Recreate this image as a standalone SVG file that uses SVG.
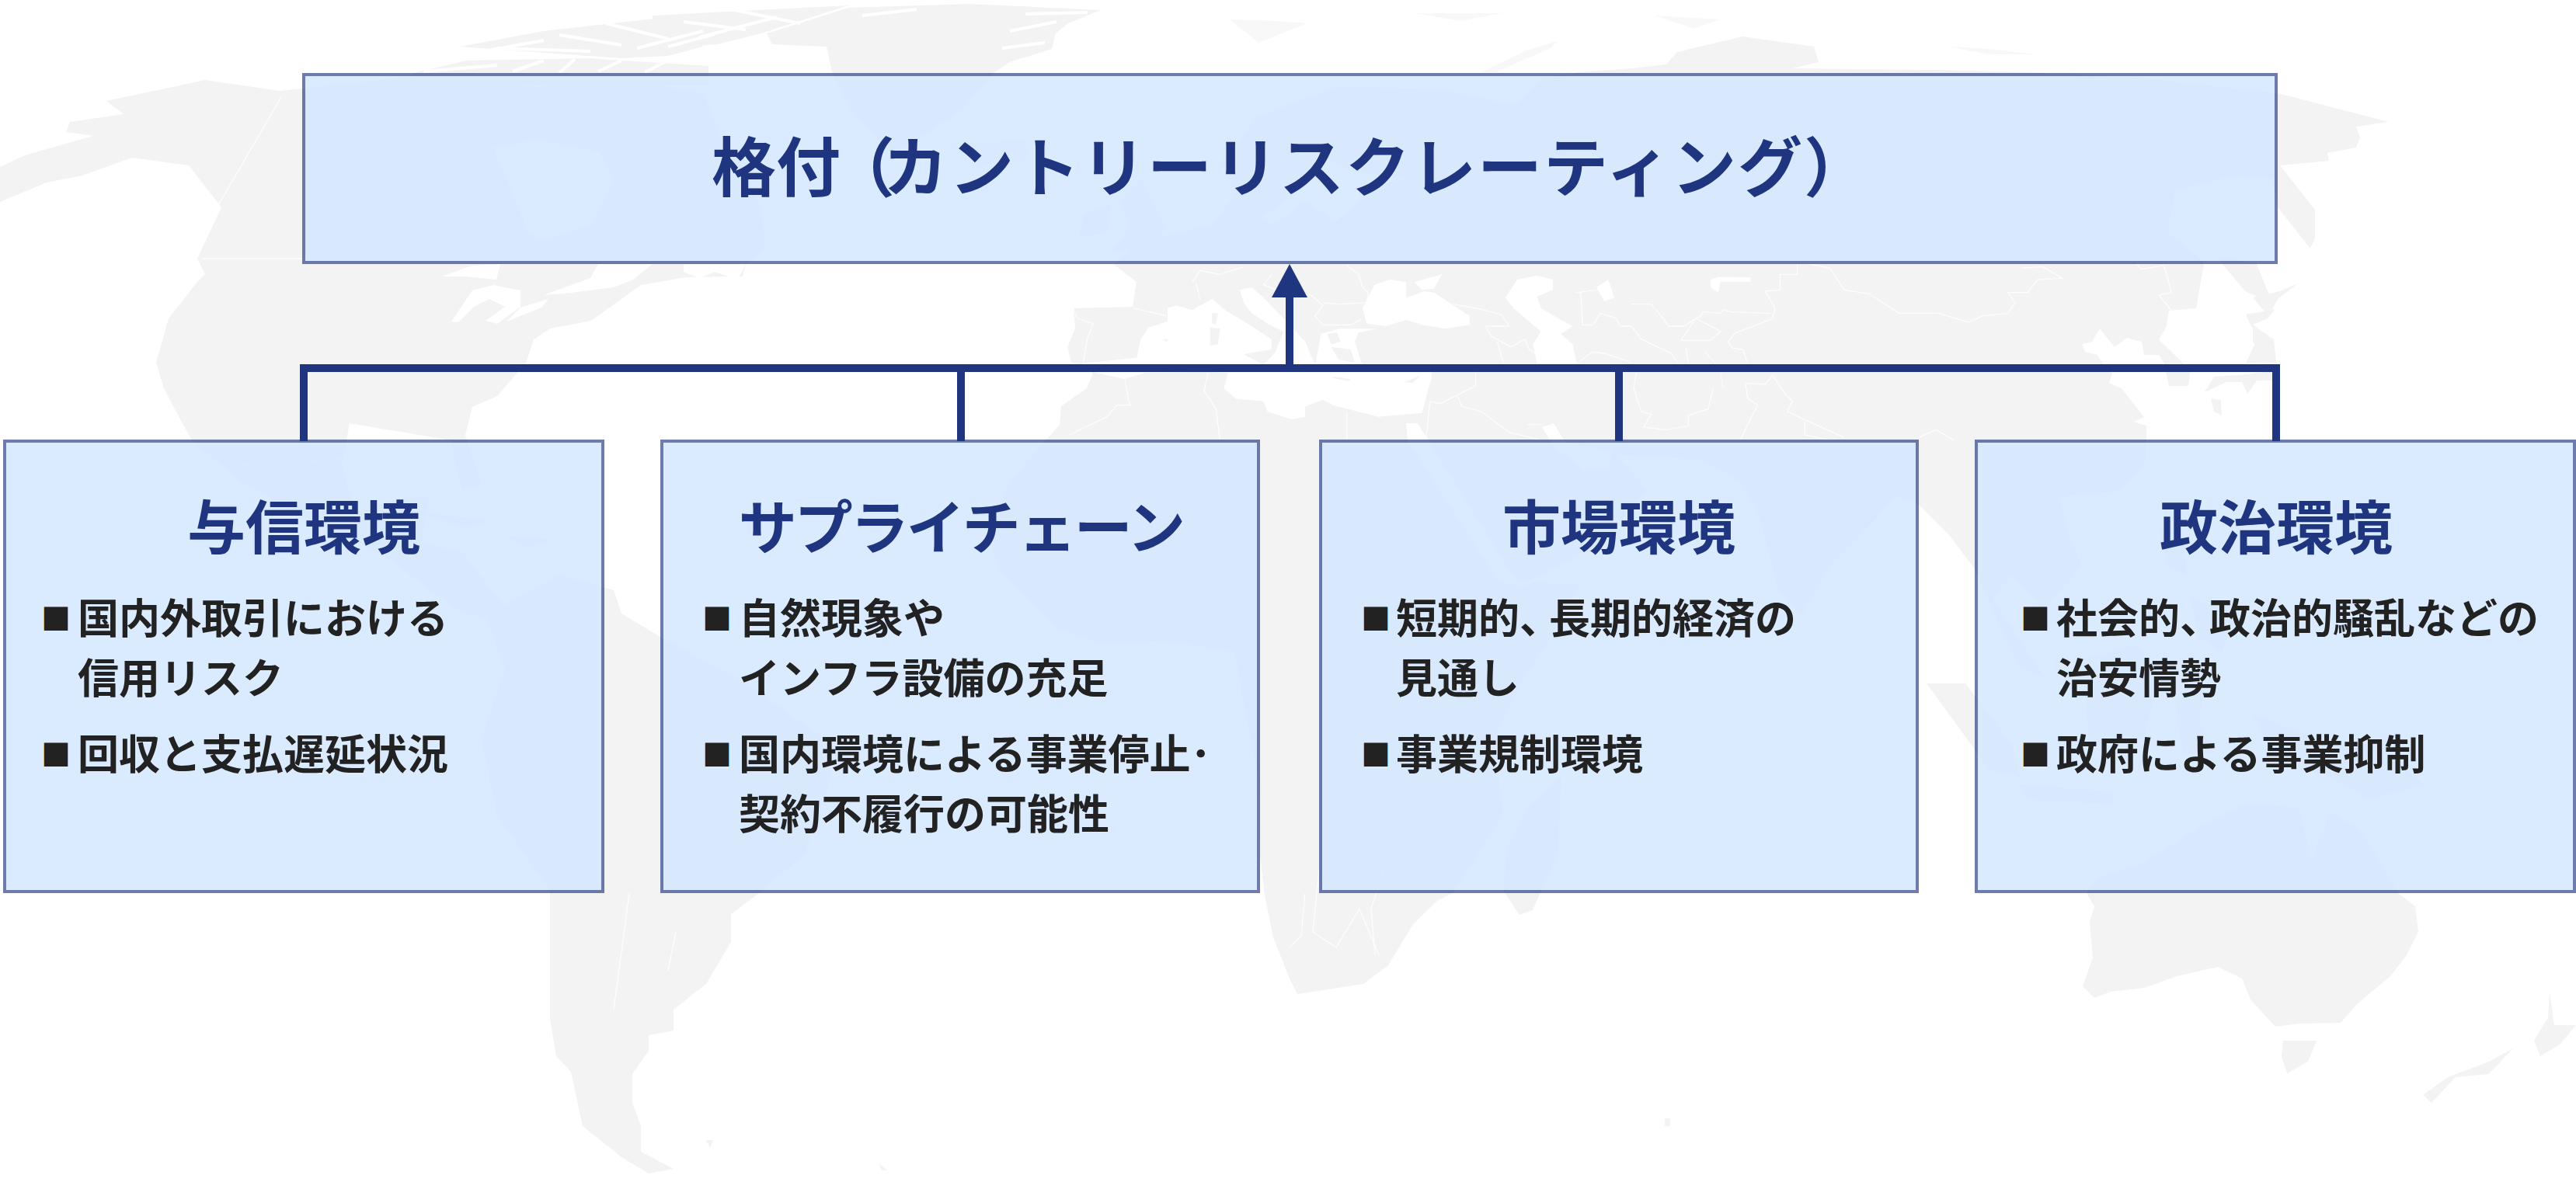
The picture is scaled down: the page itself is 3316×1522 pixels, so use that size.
<svg xmlns="http://www.w3.org/2000/svg" width="3316" height="1522" viewBox="0 0 3316 1522">
<style>
text{font-family:"Noto Sans CJK JP","Noto Sans",sans-serif;font-weight:700}
.land{fill:#f3f3f3}
.faint{fill:#f3f3f3;opacity:.55}
.sea{fill:#fff}
.fleck{fill:none;stroke:#fff;stroke-width:4}
.b{fill:none;stroke:#fff;stroke-width:1.3;vector-effect:non-scaling-stroke;opacity:.85}
.fill{fill:#d0e5ff;fill-opacity:.78}
.edge{fill:none;stroke:#1f3580;stroke-opacity:.65;stroke-width:4}
.title{font-size:83px;fill:#1f3580}
.head{font-size:75px;fill:#1f3580;text-anchor:middle}
.item{font-size:53px;fill:#222}
.bullet{font-size:38px;fill:#222}
.conn{fill:none;stroke:#1f3580;stroke-width:10}
.arrow{fill:#1f3580}
</style>
<g id="map">
<path class="land" d="M1433,340L1470,312L1560,290L1590,250L1570,210L1620,150L1720,112L1850,115L1950,135L1985,100L2033,93L2100,88L2145,83L2159,67L2243,47L2335,60L2341,80L2308,88L2493,90L2610,93L2750,100L2932,120L3075,157L3033,163L3038,177L3033,190L2996,197L2998,207L2935,213L2980,270L2980,307L2974,320L2932,267L2925,230L2880,225L2800,245L2790,300L2835,335L2837,340L2827,397L2792,400L2789,420L2779,437L2792,450L2811,468L2819,480L2817,497L2792,497L2786,468L2779,457L2760,457L2757,440L2738,435L2722,447L2703,423L2693,440L2680,443L2684,453L2700,457L2706,467L2719,480L2715,493L2731,500L2760,537L2747,543L2763,548L2763,567L2760,600L2730,632L2650,640L2660,680L2680,730L2630,785L2590,740L2565,770L2630,870L2600,860L2540,730L2510,690L2470,650L2443,638L2355,730L2320,790L2290,760L2263,660L2240,620L2190,592L2080,585L2120,630L2060,700L1975,745L1960,750L2035,752L1990,830L1958,880L1923,950L1935,1050L1870,1150L1850,1160L1819,1190L1787,1243L1755,1267L1670,1280L1660,1260L1639,1207L1628,1153L1622,1100L1620,1000L1600,900L1590,840L1500,825L1420,830L1360,810L1290,740L1270,690L1300,620L1346,567L1364,547L1366,523L1399,500L1407,480L1392,470L1379,467L1374,447L1384,423L1382,397L1458,395L1463,363Z"/>
<path class="sea" d="M1640,290L1680,260L1720,285L1770,240L1810,230L1740,220L1700,200L1680,240L1625,280Z"/>
<g transform="translate(1300,340) scale(.5102,.3333)">
<path class="sea" d="M180,385L320,362L330,290L350,245L398,222L398,170L420,160L460,178L510,135L545,180L610,240L660,290L660,330L590,348L640,390L1060,400L1065,430L1040,575L930,590L815,545L790,525L745,550L745,590L710,600L650,570L640,530L570,520L540,480L550,420L500,417L340,420L290,445L210,417Z"/>
<path class="sea" d="M580,100L610,90L640,130L700,225L745,300L770,390L640,390L670,340L690,262L650,230L610,190L590,150Z"/>
<path class="sea" d="M785,270L830,250L925,250L880,265L870,300L890,395L770,395Z"/>
<path class="sea" d="M890,170L920,80L960,60L1000,70L1000,130L1045,105L1070,110L1160,200L1160,235L1100,250L1040,235L1000,215L950,240L900,230Z"/>
<path class="sea" d="M1020,70L1090,40L1070,95L1040,100Z"/>
<path class="sea" d="M1250,130L1280,60L1330,45L1370,60L1370,100L1330,125L1340,170L1390,215L1420,240L1390,270L1420,310L1430,385L1330,385L1320,310L1340,260L1270,170Z"/>
<path class="sea" d="M1480,90L1510,60L1525,130L1500,145Z"/>
<path class="land" d="M505,245L530,250L525,310L505,315ZM510,190L525,190L520,232L510,230ZM815,435L860,445L855,452L815,440ZM995,455L1035,432L1015,460ZM385,290L400,290L395,300ZM800,270L825,265L835,300L810,310ZM810,320L860,330L870,380L830,370ZM890,300L900,330L880,350Z"/>
<path class="b" d="M160,175L170,210L210,230L195,290L185,380M310,170L395,200M460,70L480,25L530,40L590,10M470,75L480,140M660,40L640,80L690,110L760,120L790,160L770,200L790,235L860,235L885,215M850,5L880,40L890,90L905,110L900,150L830,155L790,150M1120,155L1190,175L1240,195L1260,240L1200,240L1215,280L1265,320L1300,290L1310,330L1350,370M1230,300L1245,380M1430,110L1480,100M1440,110L1445,235L1470,235L1490,190L1530,210L1540,240L1568,240M1430,385L1470,340L1500,345L1568,380M290,445L300,530L305,545L270,545L245,590L190,630L150,660M500,420L490,490L520,560L530,680M1175,417L1175,470L1085,540L1060,530M1130,510L1140,550L1190,570L1260,650L1340,680M850,570L850,680M1060,530L1050,680M1305,620L1340,620"/>
</g>
<path class="sea" d="M1810,545L1825,545L1950,745L1975,750L1960,755L1930,750L1812,567Z"/>
<path class="sea" d="M1985,550L2000,545L2015,570L2075,580L2070,605L2040,605L2000,575Z"/>
<g transform="translate(2100,340) scale(.6378,.3333)">
<path class="sea" d="M160,60L175,50L240,52L240,68L180,68L175,110L160,90Z"/>
<path class="b" d="M300,40L335,40L335,0M360,0L400,15L430,100L480,115L540,190L620,190L680,225L710,200L760,190L775,150L760,110L800,110L820,60L870,55L830,10L790,15M1020,0L1030,20L1075,5L1090,110L1065,120L1090,180M300,40L300,100L270,105L290,170L285,210L240,245L210,265L195,300L205,325L225,330L235,385M0,155L40,155L60,200L75,240L105,240L140,200L145,185L180,190L185,175L200,185L280,190M100,295L130,210L180,260L160,295L100,295M110,320L115,385M150,340L170,385M0,240L20,290L80,345L95,385M10,420L5,480L20,570L40,580L25,630L70,640L115,625L115,585L155,560L165,480M180,420L185,480M230,460L270,465L285,430L310,500L325,530L315,570L360,610L430,670M230,460L235,520L255,545L240,600L220,680M350,610L350,660L400,680M580,670L615,640L650,680"/>
</g>
<path class="land" d="M2855,330L2905,340L2925,390L2890,375L2865,345Z"/>
<path class="land" d="M2891,405L2929,398L2919,410L2900,418L2926,437L2929,467L2891,468L2907,433L2898,420ZM2891,482L2850,485L2838,505L2866,492L2886,492L2893,507L2905,490L2925,490L2925,478ZM2846,513L2859,515L2860,535L2850,530ZM2958,365L2932,385L2920,407L2900,383L2935,375ZM2900,420L2927,437L2930,467L2900,440Z"/>
<path class="land" d="M264,103L360,117L520,100L600,110L700,112L790,100L905,120L930,180L960,220L980,270L985,320L960,340L956,356L883,357L825,367L761,413L708,423L687,437L677,467L640,510L608,524L599,560L620,625L595,630L580,567L450,545L440,600L458,660L520,640L553,640L542,700L595,710L648,780L720,740L790,760L800,790L850,820L960,880L1060,950L1070,1000L1036,1100L973,1153L941,1177L941,1213L909,1267L867,1300L867,1327L835,1333L835,1353L814,1383L814,1420L825,1450L825,1483L867,1505L835,1511L800,1490L750,1450L735,1380L716,1360L708,1313L708,1147L640,1050L620,950L650,860L625,795L595,790L500,720L362,650L310,620L247,567L232,540L211,500L201,467L217,410L254,363L264,353L254,333L285,267L243,213L170,203L106,226L60,235L0,260L0,215L32,200L120,175L85,170L90,157L159,147L137,130Z"/>
<path class="sea" d="M635,190L690,180L770,195L790,230L760,290L700,310L680,300L660,250Z"/>
<path class="sea" d="M568,356L608,342L644,340L639,360L599,356ZM770,340L840,340L815,360L790,370L735,377L700,380L760,358ZM880,340L960,340L950,360L920,350L900,358L880,350Z"/>
<path class="sea" d="M581,414L608,374L635,367L670,374L670,395L640,417L625,413L650,395L630,385L610,395L590,415ZM670,396L706,385L697,396L652,414Z"/>
<path class="b" d="M362,125L240,335M260,333L560,333M300,600L450,590"/>
<path class="land" d="M1092,10L1248,5L1417,13L1375,30L1359,43L1354,63L1300,80L1280,93L1240,140L1150,200L1100,150L1071,93L1064,60L994,57L987,43Z"/>
<path class="land" d="M840,20L1092,7L980,43L924,57L840,63ZM592,60L700,40L878,20L905,60L860,72L800,75ZM529,95L600,78L760,75L912,85L912,110L529,110Z"/>
<path class="fleck" d="M600,70L700,52M640,62L760,66M720,45L800,58M780,30L860,50M820,62L905,40M545,92L640,84M660,92L700,78M720,94L740,76M770,92L800,78M830,93L860,78M880,28L960,38M900,48L1000,22M940,12L1030,30M860,60L920,44M1110,20L1180,12M1320,18L1400,16M1300,40L1360,28M1290,62L1345,55M1310,88L1345,72"/>
<path class="faint" d="M1583,25L1640,27L1682,30L1620,55ZM1822,17L1934,17L1880,27ZM1906,93L1965,65L2005,53L1996,62L1925,93ZM2130,20L2215,25L2180,37ZM2510,60L2560,63L2620,70L2560,70ZM1220,185L1320,180L1325,205L1250,215Z"/>
<path class="land" d="M1440,260L1470,230L1500,290L1490,320L1430,325L1455,290ZM1395,275L1430,265L1425,300L1390,305Z"/>
<path class="land" d="M2480,880L2530,880L2590,960L2600,1000L2560,990ZM2600,1010L2720,1020L2720,1035L2610,1030ZM2680,850L2750,830L2780,870L2760,950L2690,960ZM2800,900L2840,880L2830,930L2850,970L2810,970ZM2780,680L2810,690L2815,740L2790,730ZM2820,770L2880,790L2860,840L2830,820ZM2900,920L2980,950L3060,960L3120,1010L3050,1030L3000,1000L2930,980ZM1935,1147L1956,1178L1973,1172L2005,1100L2010,1000L1965,1040L1940,1090ZM540,660L630,670L600,680ZM650,690L710,695L680,705Z"/>
<path class="land" d="M2686,1150L2696,1167L2690,1187L2694,1233L2681,1270L2696,1285L2717,1277L2760,1272L2802,1257L2855,1245L2886,1260L2897,1287L2929,1322L2960,1318L3013,1317L3034,1293L3077,1257L3098,1230L3113,1200L3109,1167L3087,1150L3040,1070L3000,1045L2975,1110L2960,1040L2890,1035L2840,1060L2760,1110L2700,1130Z"/>
<path class="land" d="M2939,1340L2982,1340L2971,1367L2944,1382L2937,1360ZM3282,1277L3288,1320L3316,1320L3295,1345L3270,1360L3262,1340L3280,1310ZM3235,1350L3204,1383L3161,1387L3130,1420L3119,1410L3151,1387L3204,1367ZM2143,1440L2150,1440L2150,1450L2143,1450ZM909,1468L918,1468L914,1478ZM1131,1498L1142,1507L1135,1507Z"/>
<path class="b" d="M1680,1150L1675,1205L1660,1220M1700,1100L1690,1200L1720,1220L1750,1170L1775,1230M1770,1230L1765,1170L1785,1110M810,1150L790,1300M860,1250L870,1200"/>
</g>
<g id="node-rating">
<rect class="fill" x="393" y="98" width="2535" height="238"/>
<rect class="edge" x="391" y="96" width="2539" height="242"/>
<text class="title" x="916" y="246">格付<tspan dx="-13">（</tspan><tspan dx="-15" letter-spacing="2">カントリーリスクレーティング</tspan>）</text>
</g>
<g id="node-credit">
<rect class="fill" x="8" y="570" width="766" height="576"/>
<rect class="edge" x="6" y="568" width="770" height="580"/>
<text class="head" x="391" y="707">与信環境</text>
<text class="bullet" x="53" y="811">■</text>
<text class="item" x="100" y="816">国内外取引における</text>
<text class="item" x="100" y="893">信用リスク</text>
<text class="bullet" x="53" y="986">■</text>
<text class="item" x="100" y="991">回収と支払遅延状況</text>
</g>
<g id="node-supply">
<rect class="fill" x="854" y="570" width="764" height="576"/>
<rect class="edge" x="852" y="568" width="768" height="580"/>
<text class="head" x="1237" y="707" letter-spacing="-3">サプライチェーン</text>
<text class="bullet" x="904" y="811">■</text>
<text class="item" x="951" y="816">自然現象や</text>
<text class="item" x="951" y="893">インフラ設備の充足</text>
<text class="bullet" x="904" y="986">■</text>
<text class="item" x="951" y="991">国内環境による事業停止･</text>
<text class="item" x="951" y="1068">契約不履行の可能性</text>
</g>
<g id="node-market">
<rect class="fill" x="1702" y="570" width="764" height="576"/>
<rect class="edge" x="1700" y="568" width="768" height="580"/>
<text class="head" x="2084" y="707">市場環境</text>
<text class="bullet" x="1752" y="811">■</text>
<text class="item" x="1797" y="816">短期的、<tspan dx="-15">長期的経済の</tspan></text>
<text class="item" x="1797" y="893">見通し</text>
<text class="bullet" x="1752" y="986">■</text>
<text class="item" x="1797" y="991">事業規制環境</text>
</g>
<g id="node-political">
<rect class="fill" x="2546" y="570" width="766" height="576"/>
<rect class="edge" x="2544" y="568" width="770" height="580"/>
<text class="head" x="2930" y="707">政治環境</text>
<text class="bullet" x="2601" y="811">■</text>
<text class="item" x="2647" y="816">社会的、<tspan dx="-15">政治的騒乱などの</tspan></text>
<text class="item" x="2647" y="893">治安情勢</text>
<text class="bullet" x="2601" y="986">■</text>
<text class="item" x="2647" y="991">政府による事業抑制</text>
</g>
<g id="connectors">
<path class="conn" d="M391,472V568M1237,474V568M2084,474V568M2930,472V568M386,474H2935M1660,474V380"/>
<polygon class="arrow" points="1660,340 1683,383 1637,383"/>
</g>
</svg>
